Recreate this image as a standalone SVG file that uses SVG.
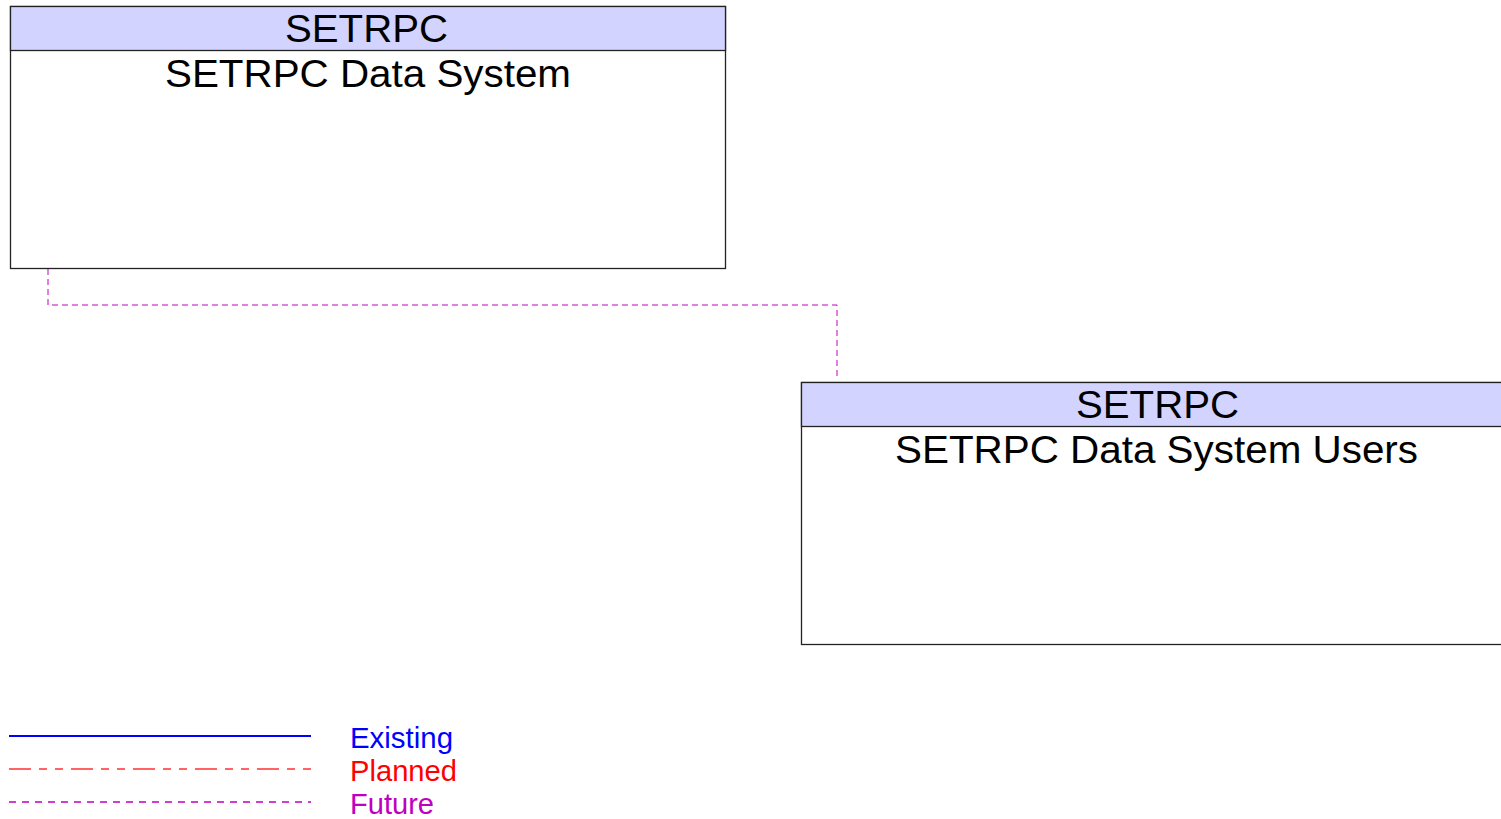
<svg xmlns="http://www.w3.org/2000/svg" width="1501" height="819" viewBox="0 0 1501 819">
<style>
.box{fill:#ffffff;stroke:#222;stroke-width:1.3}
.hdr{fill:#d3d3ff;stroke:#222;stroke-width:1.3}
.t{font-family:"Liberation Sans",Arial,sans-serif;font-size:38px;fill:#000;text-anchor:middle}
.lg{font-family:"Liberation Sans",Arial,sans-serif;font-size:29px}
.future{fill:none;stroke:#c000c0;stroke-width:1;stroke-dasharray:6,4}
</style>
<rect width="1501" height="819" fill="#fff"/>
<g id="connectors">
<path class="future" d="M48 269 V305 H837 V378"/>
</g>
<g id="node-setrpc-data-system">
<rect class="box" x="10.5" y="6.5" width="715" height="262"/>
<rect class="hdr" x="10.5" y="6.5" width="715" height="44"/>
<text class="t" x="366.5" y="42" textLength="163" lengthAdjust="spacingAndGlyphs">SETRPC</text>
<text class="t" x="368" y="87" textLength="406" lengthAdjust="spacingAndGlyphs">SETRPC Data System</text>
</g>
<g id="node-setrpc-data-system-users">
<rect class="box" x="801.5" y="382.5" width="715" height="262"/>
<rect class="hdr" x="801.5" y="382.5" width="715" height="44"/>
<text class="t" x="1157.5" y="418" textLength="163" lengthAdjust="spacingAndGlyphs">SETRPC</text>
<text class="t" x="1156.5" y="463" textLength="523" lengthAdjust="spacingAndGlyphs">SETRPC Data System Users</text>
</g>
<g id="legend">
<line x1="9" y1="736" x2="311" y2="736" stroke="#0000ff" stroke-width="2"/>
<line x1="9" y1="769" x2="311" y2="769" stroke="#ff3030" stroke-width="1.3" stroke-dasharray="22,8,8,8,8,8"/>
<line x1="9" y1="802" x2="311" y2="802" stroke="#c000c0" stroke-width="1.3" stroke-dasharray="7,6"/>
<text class="lg" x="350" y="748" fill="#0000ff" textLength="103" lengthAdjust="spacingAndGlyphs">Existing</text>
<text class="lg" x="350" y="781" fill="#ff0000" textLength="107" lengthAdjust="spacingAndGlyphs">Planned</text>
<text class="lg" x="350" y="814" fill="#c000c0" textLength="84" lengthAdjust="spacingAndGlyphs">Future</text>
</g>
</svg>
